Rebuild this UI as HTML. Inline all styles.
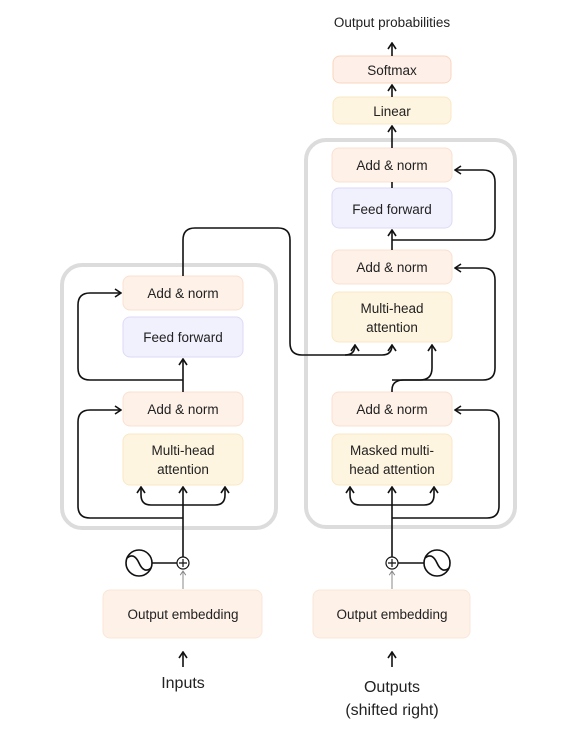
<!DOCTYPE html>
<html><head><style>
html,body{margin:0;padding:0;background:#fff;}
svg text{font-family:"Liberation Sans",sans-serif;fill:#222;}
</style></head><body>
<svg width="575" height="737" viewBox="0 0 575 737" xmlns="http://www.w3.org/2000/svg">
<defs>
<marker id="a" viewBox="0 0 10 10" refX="9" refY="5" markerWidth="10" markerHeight="10" markerUnits="userSpaceOnUse" orient="auto">
<path d="M3,1 L9,5 L3,9" fill="none" stroke="#111" stroke-width="1.6"/>
</marker>
<marker id="g" viewBox="0 0 10 10" refX="9" refY="5" markerWidth="7" markerHeight="7" markerUnits="userSpaceOnUse" orient="auto">
<path d="M3,1 L9,5 L3,9" fill="none" stroke="#888" stroke-width="1.4"/>
</marker>
</defs>
<!-- big boxes -->
<rect x="62" y="265" width="214" height="263" rx="20" fill="none" stroke="#dcdcdc" stroke-width="4"/>
<rect x="306" y="140" width="209" height="387" rx="20" fill="none" stroke="#dcdcdc" stroke-width="4"/>

<g stroke-width="1">
<!-- left nodes -->
<rect x="123" y="276" width="120" height="34" rx="7" fill="#fef1e8" stroke="#fbe0cf"/>
<rect x="123" y="317" width="120" height="40" rx="7" fill="#f1f0fd" stroke="#dcdaf8"/>
<rect x="123" y="392" width="120" height="34" rx="7" fill="#fef1e8" stroke="#fbe0cf"/>
<rect x="123" y="434" width="120" height="51" rx="7" fill="#fef5e0" stroke="#fbe7c4"/>
<!-- right nodes -->
<rect x="332" y="148" width="120" height="34" rx="7" fill="#fef1e8" stroke="#fbe0cf"/>
<rect x="332" y="188" width="120" height="40" rx="7" fill="#f1f0fd" stroke="#dcdaf8"/>
<rect x="332" y="250" width="120" height="34" rx="7" fill="#fef1e8" stroke="#fbe0cf"/>
<rect x="332" y="292" width="120" height="50" rx="7" fill="#fef5e0" stroke="#fbe7c4"/>
<rect x="332" y="392" width="120" height="34" rx="7" fill="#fef1e8" stroke="#fbe0cf"/>
<rect x="332" y="434" width="120" height="51" rx="7" fill="#fef5e0" stroke="#fbe7c4"/>
<rect x="333" y="97" width="118" height="27" rx="7" fill="#fef5e0" stroke="#fbe7c4"/>
<rect x="333" y="56" width="118" height="27" rx="7" fill="#fef0e8" stroke="#fbd5bd"/>
<!-- embeddings -->
<rect x="103" y="590" width="159" height="48" rx="7" fill="#fef1e8" stroke="#fbe6d8"/>
<rect x="313" y="590" width="157" height="48" rx="7" fill="#fef1e8" stroke="#fbe6d8"/>
</g>

<g font-size="13.5" text-anchor="middle">
<text x="183" y="298">Add &amp; norm</text>
<text x="183" y="342">Feed forward</text>
<text x="183" y="414">Add &amp; norm</text>
<text x="183" y="455">Multi-head</text>
<text x="183" y="474">attention</text>
<text x="392" y="170">Add &amp; norm</text>
<text x="392" y="214">Feed forward</text>
<text x="392" y="272">Add &amp; norm</text>
<text x="392" y="313">Multi-head</text>
<text x="392" y="332">attention</text>
<text x="392" y="414">Add &amp; norm</text>
<text x="392" y="455">Masked multi-</text>
<text x="392" y="474">head attention</text>
<text x="392" y="116">Linear</text>
<text x="392" y="75">Softmax</text>
<text x="392" y="27">Output probabilities</text>
<text x="183" y="619">Output embedding</text>
<text x="392" y="619">Output embedding</text>
<text x="183" y="688" font-size="16">Inputs</text>
<text x="392" y="692" font-size="16">Outputs</text>
<text x="392" y="715" font-size="16">(shifted right)</text>
</g>

<g fill="none" stroke="#111" stroke-width="1.6">
<!-- left encoder -->
<path d="M183,557 V487" marker-end="url(#a)"/>
<path d="M183,505 H151 Q141,505 141,495 V487" marker-end="url(#a)"/>
<path d="M183,505 H215 Q225,505 225,495 V487" marker-end="url(#a)"/>
<path d="M183,518 H90 Q78,518 78,506 V422 Q78,410 90,410 H121" marker-end="url(#a)"/>
<path d="M183,392 V359" marker-end="url(#a)"/>
<path d="M183,380 H90 Q78,380 78,368 V305 Q78,293 90,293 H121" marker-end="url(#a)"/>
<path d="M183,276 V240 Q183,228 195,228 H278 Q290,228 290,240 V343 Q290,355 302,355 H345 Q355,355 355,345" marker-end="url(#a)"/>
<path d="M345,355 H382 Q392,355 392,345" marker-end="url(#a)"/>
<!-- right decoder -->
<path d="M392,557 V487" marker-end="url(#a)"/>
<path d="M392,505 H360 Q350,505 350,495 V487" marker-end="url(#a)"/>
<path d="M392,505 H424 Q434,505 434,495 V487" marker-end="url(#a)"/>
<path d="M392,518 H487 Q499,518 499,506 V422 Q499,410 487,410 H455" marker-end="url(#a)"/>
<path d="M392,392 V390 Q392,380 404,380 H420 Q432,380 432,368 V345" marker-end="url(#a)"/>
<path d="M392,380 H483 Q495,380 495,368 V280 Q495,268 483,268 H455" marker-end="url(#a)"/>
<path d="M392,250 V230" marker-end="url(#a)"/>
<path d="M392,240 H483 Q495,240 495,228 V182 Q495,170 483,170 H455" marker-end="url(#a)"/>
<path d="M392,188 V182"/>
<path d="M392,148 V126" marker-end="url(#a)"/>
<path d="M392,97 V85" marker-end="url(#a)"/>
<path d="M392,56 V43" marker-end="url(#a)"/>
<!-- bottom arrows -->
<path d="M183,667 V652" marker-end="url(#a)"/>
<path d="M392,667 V652" marker-end="url(#a)"/>
<!-- sine circles -->
<path d="M152,563 H177"/>
<circle cx="139" cy="563" r="13" fill="#fff"/>
<path d="M127,558 Q134,552 139,563 Q144,574 151,568"/>
<path d="M398,563 H424"/>
<circle cx="437" cy="563" r="13" fill="#fff"/>
<path d="M425,558 Q432,552 437,563 Q442,574 449,568"/>
</g>
<g fill="none" stroke="#888" stroke-width="1">
<path d="M183,589 V571" marker-end="url(#g)"/>
<path d="M392,589 V571" marker-end="url(#g)"/>
</g>
<g fill="#fff" stroke="#111" stroke-width="1.2">
<circle cx="183" cy="563" r="6"/>
<circle cx="392" cy="563" r="6"/>
</g>
<g stroke="#111" stroke-width="1.2">
<path d="M179,563 H187 M183,559 V567"/>
<path d="M388,563 H396 M392,559 V567"/>
</g>
</svg>
</body></html>
